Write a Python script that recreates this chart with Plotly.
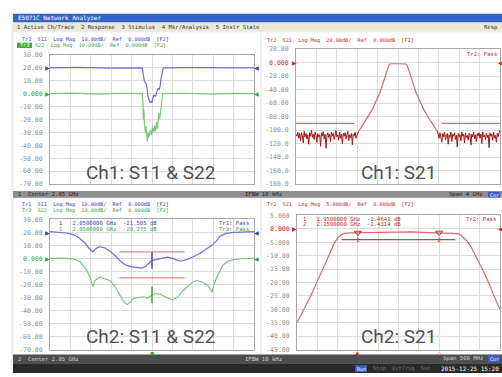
import numpy as np
import plotly.graph_objects as go

W, H = 502, 377

# ---------------- channel settings ----------------
ch1_start, ch1_stop = 0.05, 4.05   # GHz (Center 2.05 GHz, Span 4 GHz)
ch2_start, ch2_stop = 1.80, 2.30   # GHz (Center 2.05 GHz, Span 500 MHz)

# ---------------- Ch1 : S11 (Tr1) & S22 (Tr3) ----------------
ch1_s11_f = [0.05, 0.6, 1.2, 1.7, 1.86, 1.88, 1.90, 1.93, 1.95, 1.97, 1.99, 2.01, 2.03, 2.05,
             2.07, 2.09, 2.11, 2.13, 2.15, 2.17, 2.19, 2.21, 2.23, 2.25, 2.27, 2.8, 3.4, 4.05]
ch1_s11_db = [20, 20.3, 19.8, 20.1, 20, 15, 10, 8, 5, -2, -5, -7, -6, -7,
              -3, -1, -2, -1, 2, 4, 3, 6, 12, 18, 20, 20.2, 19.9, 20]

ch1_s22_f = [0.05, 0.5, 1.0, 1.5, 1.86, 1.875, 1.88, 1.89, 1.90, 1.92, 1.93, 1.95, 1.96, 1.97,
             1.98, 2.00, 2.02, 2.04, 2.06, 2.08, 2.10, 2.12, 2.14, 2.16, 2.18, 2.20, 2.22, 2.24,
             2.26, 2.7, 3.2, 3.6, 4.05]
ch1_s22_db = [0, 0.4, -0.3, 0.3, 0, -8, -20, -12, -22, -30, -25, -35, -37, -30,
              -34, -31, -28, -32, -26, -30, -25, -29, -22, -27, -15, -20, -12, -5,
              0, 0.3, -0.3, 0.2, 0]

# ---------------- Ch1 : S21 (Tr2) ----------------
ch1_s21_f = [1.28, 1.34, 1.40, 1.48, 1.55, 1.62, 1.70, 1.75, 1.80, 1.84, 1.87, 1.89, 1.92, 2.05,
             2.18, 2.21, 2.23, 2.26, 2.30, 2.35, 2.40, 2.48, 2.55, 2.62, 2.70, 2.76, 2.82]
ch1_s21_db = [-102, -95, -88, -78, -69, -57, -44, -32, -20, -10, -4, -2.2, -1.8, -1.8,
              -1.8, -2.2, -4, -10, -20, -32, -44, -57, -69, -78, -88, -95, -102]
ch1_noise_left_stop = 1.28
ch1_noise_left_db = [-106, -109, -103, -112, -105, -116, -104, -108, -119, -102, -110, -105, -113,
                     -107, -121, -104, -109, -100, -111, -106, -114, -103, -108, -118, -105, -110,
                     -107, -124, -104, -109, -102, -113, -106, -127, -108, -104, -111, -106, -117,
                     -103, -109, -105, -114, -104, -101, -110, -107, -115, -103, -112, -106, -120,
                     -105, -109, -104, -113, -108, -102, -116, -107, -111, -105, -122, -106, -109,
                     -103, -112, -107, -105, -102]
ch1_noise_right_start = 2.82
ch1_noise_right_db = [-101, -106, -112, -104, -109, -118, -105, -110, -103, -115, -108, -105, -121,
                      -107, -111, -103, -117, -106, -109, -104, -114, -108, -125, -105, -110, -107,
                      -116, -103, -109, -106, -119, -104, -111, -108, -115, -105, -107, -122, -106,
                      -110, -103, -113, -107, -117, -105, -109, -104, -112, -106, -120, -103, -110,
                      -108, -114, -105, -111, -107, -126, -104, -109, -106, -115, -103, -112, -108,
                      -118, -105, -110, -104, -100]
ch1_limit_segments = [(0.05, 1.20), (2.90, 4.05)]
ch1_limit_db = -90

# ---------------- Ch2 : S11 (Tr1) & S22 (Tr3) ----------------
ch2_s11_f = [1.80, 1.82, 1.84, 1.855, 1.87, 1.885, 1.895, 1.905, 1.912, 1.922, 1.935, 1.947, 1.96,
             1.972, 1.985, 2.0, 2.012, 2.025, 2.035, 2.045, 2.05, 2.06, 2.075, 2.088, 2.1, 2.112,
             2.122, 2.135, 2.15, 2.168, 2.185, 2.197, 2.207, 2.217, 2.23, 2.249, 2.27, 2.3]
ch2_s11_db = [20.5, 20, 19.5, 18.5, 16, 12, 8, 5, 7.5, 9, 8, 5.5, 2,
              -2, -5, -6.5, -7.2, -7.5, -6, -3, -1.5, -1, 0, 1, 0, -1.5,
              -2, -1, 1, 4, 7.5, 10, 13, 17, 19, 20, 20.2, 20.5]
ch2_s22_f = [1.80, 1.83, 1.86, 1.875, 1.89, 1.90, 1.905, 1.91, 1.922, 1.935, 1.947, 1.96, 1.97,
             1.98, 1.989, 1.996, 2.003, 2.015, 2.028, 2.04, 2.05, 2.06, 2.07, 2.085, 2.101, 2.115,
             2.125, 2.136, 2.148, 2.16, 2.172, 2.185, 2.192, 2.197, 2.202, 2.209, 2.217, 2.224,
             2.235, 2.249, 2.27, 2.3]
ch2_s22_db = [0, 0.2, -0.5, -3, -9, -16, -22, -17, -14.5, -15.5, -17, -22, -28,
              -33, -35.5, -34, -31, -30, -29.5, -30.5, -28, -27, -27.5, -30, -32, -29,
              -25, -22, -18.5, -17, -18, -20.5, -23, -26, -20, -14.5, -9, -5,
              -2.5, -1, -0.3, 0]
ch2_limit_f = (1.97, 2.13)
ch2_limit_s11 = 5
ch2_limit_s22 = -15
ch2_marker_f = 2.05
ch2_marker_s11 = -1.5
ch2_marker_s22 = -28

# ---------------- Ch2 : S21 (Tr2) ----------------
ch2_s21_f = [1.80, 1.815, 1.834, 1.85, 1.867, 1.88, 1.891, 1.90, 1.908, 1.916, 1.93, 1.95, 1.99,
             2.02, 2.05, 2.08, 2.11, 2.15, 2.18, 2.197, 2.205, 2.211, 2.22, 2.229, 2.245, 2.261,
             2.275, 2.285, 2.3]
ch2_s21_db = [-35, -30.5, -25, -19.5, -14, -9.5, -5.5, -3.5, -2.3, -1.7, -1.5, -1.46, -1.5,
              -1.4, -1.1, -1.1, -1.3, -1.43, -1.5, -1.8, -2.5, -3.3, -4.8, -6.8, -11.5, -16.4,
              -21, -25, -30]
ch2_s21_limit_f = (1.91, 2.19)
ch2_s21_limit_db = -4
ch2_s21_markers_f = [1.95, 2.15]
ch2_s21_markers_db = [-1.4641, -1.4314]

# ---------------- tick labels ----------------
ch1_left_ticks = [30, 20, 10, 0, -10, -20, -30, -40, -50, -60, -70]
ch1_left_text = ["30.00", "20.00", "10.00", "<span style='color:#3f9f3f'>0.000</span>", "-10.00", "-20.00",
                 "-30.00", "-40.00", "-50.00", "-60.00", "-70.00"]
ch1_right_ticks = [20, 0, -20, -40, -60, -80, -100, -120, -140, -160, -180]
ch1_right_text = ["20.00", "<span style='color:#c62828'>0.000</span>", "-20.00", "-40.00", "-60.00", "-80.00",
                  "-100.0", "-120.0", "-140.0", "-160.0", "-180.0"]
ch2_right_ticks = [5, 0, -5, -10, -15, -20, -25, -30, -35, -40, -45]
ch2_right_text = ["5.000", "<span style='color:#c62828'>0.000</span>", "-5.000", "-10.00", "-15.00", "-20.00",
                  "-25.00", "-30.00", "-35.00", "-40.00", "-45.00"]

BLUE = "#6f6fd6"
GREEN = "#7cc67c"
RED = "#d26a6a"
DRED = "#a51616"
MONO = "DejaVu Sans Mono"

fig = go.Figure()

def line(xs, ys, color, ax, width=1.2):
    fig.add_trace(go.Scatter(x=xs, y=ys, mode="lines", line=dict(color=color, width=width),
                             xaxis=ax[0], yaxis=ax[1], showlegend=False, hoverinfo="skip"))

A1 = ("x", "y"); A2 = ("x2", "y2"); A3 = ("x3", "y3"); A4 = ("x4", "y4")

# Ch1 left
line(ch1_s22_f, ch1_s22_db, GREEN, A1)
line(ch1_s11_f, ch1_s11_db, BLUE, A1)
# Ch1 right
for a, b in ch1_limit_segments:
    line([a, b], [ch1_limit_db, ch1_limit_db], "#d97070", A2, 1.2)
nl = np.linspace(ch1_start, ch1_noise_left_stop, len(ch1_noise_left_db))
nr = np.linspace(ch1_noise_right_start, ch1_stop, len(ch1_noise_right_db))
line(nl, ch1_noise_left_db, DRED, A2, 1.0)
line(nr, ch1_noise_right_db, DRED, A2, 1.0)
line(ch1_s21_f, ch1_s21_db, RED, A2, 1.2)
# Ch2 left
line(list(ch2_limit_f), [ch2_limit_s11] * 2, "#dd8c84", A3, 1.3)
line(list(ch2_limit_f), [ch2_limit_s22] * 2, "#dd8c84", A3, 1.3)
line(ch2_s22_f, ch2_s22_db, GREEN, A3)
line(ch2_s11_f, ch2_s11_db, BLUE, A3)
fig.add_trace(go.Scatter(x=[ch2_marker_f], y=[ch2_marker_s11], mode="markers", xaxis="x3", yaxis="y3",
                         marker=dict(symbol="line-ns", size=12, color="#4b4bc0",
                                     line=dict(color="#4b4bc0", width=1.5)),
                         showlegend=False, hoverinfo="skip"))
fig.add_trace(go.Scatter(x=[ch2_marker_f], y=[ch2_marker_s22], mode="markers", xaxis="x3", yaxis="y3",
                         marker=dict(symbol="line-ns", size=12, color="#3f9f3f",
                                     line=dict(color="#3f9f3f", width=1.5)),
                         showlegend=False, hoverinfo="skip"))
# Ch2 right
line(list(ch2_s21_limit_f), [ch2_s21_limit_db] * 2, "#b54848", A4, 1.2)
line(ch2_s21_f, ch2_s21_db, RED, A4, 1.2)
fig.add_trace(go.Scatter(x=ch2_s21_markers_f, y=ch2_s21_markers_db, mode="markers+text", xaxis="x4", yaxis="y4",
                         marker=dict(symbol="triangle-down-open", size=6, color="#b53030",
                                     line=dict(color="#b53030", width=1)),
                         text=["1", "2"], textposition="bottom center",
                         textfont=dict(family=MONO, size=6, color="#b53030"),
                         showlegend=False, hoverinfo="skip", cliponaxis=False))

# ---------------- axes ----------------
def px(x):
    return x / W

def py(y):
    return 1 - y / H

grid = "#dcdcdc"
tickfont = dict(family=MONO, size=6.5, color="#8f8f8f")

def xax(dom, r):
    return dict(domain=[px(dom[0]), px(dom[1])], range=list(r), tick0=r[0], dtick=(r[1] - r[0]) / 10,
                showticklabels=False, ticks="", showgrid=True, gridcolor=grid, gridwidth=1,
                zeroline=False, showline=True, mirror=True, linecolor="#a8a8a8", linewidth=1,
                fixedrange=True)

def yax(dom, r, tv, tt, anchor):
    return dict(domain=[py(dom[1]), py(dom[0])], range=list(r), tickvals=tv, ticktext=tt,
                ticks="", ticklabelstandoff=5, tickfont=tickfont, showgrid=True, gridcolor=grid,
                zeroline=False, showline=True, mirror=True, linecolor="#a8a8a8", linewidth=1,
                anchor=anchor, fixedrange=True)

fig.update_layout(
    xaxis=dict(xax((50, 254), (ch1_start, ch1_stop)), anchor="y"),
    yaxis=yax((52, 184), (-70, 30), ch1_left_ticks, ch1_left_text, "x"),
    xaxis2=dict(xax((296, 500), (ch1_start, ch1_stop)), anchor="y2"),
    yaxis2=yax((46, 184), (-180, 20), ch1_right_ticks, ch1_right_text, "x2"),
    xaxis3=dict(xax((50, 254), (ch2_start, ch2_stop)), anchor="y3"),
    yaxis3=yax((220, 353), (-70, 30), ch1_left_ticks, ch1_left_text, "x3"),
    xaxis4=dict(xax((297, 500), (ch2_start, ch2_stop)), anchor="y4"),
    yaxis4=yax((216, 353), (-45, 5), ch2_right_ticks, ch2_right_text, "x4"),
)

# ---------------- window chrome ----------------
shapes = []

def rect(x0, y0, x1, y1, fill, edge=None, layer="below"):
    shapes.append(dict(type="rect", xref="paper", yref="paper", x0=px(x0), x1=px(x1),
                       y0=py(y1), y1=py(y0), fillcolor=fill, layer=layer,
                       line=dict(width=1 if edge else 0, color=edge or fill)))

rect(11, 10, 502, 377, "#f2f2f2")          # window
rect(13, 10, 502, 19, "#3564c8")           # title bar
rect(13, 19, 502, 28, "#ece9d8")           # menu bar
rect(14, 29, 260, 191, "#ffffff")          # Ch1 left panel
rect(262, 29, 502, 191, "#ffffff")         # Ch1 right panel
rect(13, 191, 502, 198, "#8e8e8e")         # Ch1 status
rect(14, 199, 260, 358, "#ffffff")         # Ch2 left panel
rect(262, 199, 502, 358, "#ffffff")        # Ch2 right panel
rect(13, 358, 502, 367, "#4e4e4e")         # Ch2 status
rect(13, 367, 502, 377, "#2a2a2a")         # bottom bar
rect(488, 192, 500, 197.5, "#3d5fc2")      # Cor
rect(488, 359, 500, 366, "#3d5fc2")        # Cor
rect(355, 369, 367, 376, "#3d5fc2")        # Run
rect(17, 39.5, 32, 45, "#3cb043")          # active trace box
fig.update_layout(shapes=shapes)

# ---------------- texts ----------------
ann = []

def text(x, y, s, color, size=6.3, family=MONO, anchor="left", xref="paper", yref="paper"):
    ann.append(dict(x=px(x) if xref == "paper" else x, y=py(y) if yref == "paper" else y,
                    xref=xref, yref=yref, text=s, showarrow=False, xanchor=anchor, yanchor="middle",
                    font=dict(family=family, size=size, color=color)))

text(16, 14.5, "E5071C Network Analyzer", "#ffffff", 6)
text(15, 23.5, "1 Active Ch/Trace  2 Response  3 Stimulus  4 Mkr/Analysis  5 Instr State", "#333333", 5.6)
text(500, 23.5, "Resp", "#333333", 5.6, anchor="right")

text(20, 36.5, "Tr1  S11  Log Mag  10.00dB/  Ref  0.000dB  [F2]", "#4040b8", 5.2)
text(18, 42.2, "Tr3", "#ffffff", 5.2)
text(33, 42.2, "S22  Log Mag  10.00dB/  Ref  0.000dB  [F2]", "#3f9f3f", 5.2)
text(265, 37, "Tr2  S21  Log Mag  20.00dB/  Ref  0.000dB  [F2]", "#c62828", 5.2)
text(499, 51, "Tr2: Pass", "#c62828", 5.6, anchor="right")

text(20, 205, "Tr1  S11  Log Mag  10.00dB/  Ref  0.000dB  [F2]", "#4040b8", 5.2)
text(20, 210.5, "Tr3  S22  Log Mag  10.00dB/  Ref  0.000dB  [F2]", "#3f9f3f", 5.2)
text(265, 205, "Tr2  S21  Log Mag  5.000dB/  Ref  0.000dB  [F2]", "#c62828", 5.2)

text(57, 223.5, "1   2.0500000 GHz  -21.505 dB", "#4040b8", 5.6)
text(57, 229.5, "1   2.0500000 GHz  -28.275 dB", "#3f9f3f", 5.6)
text(251, 223.5, "Tr1: Pass", "#4040b8", 5.6, anchor="right")
text(251, 229.5, "Tr3: Pass", "#3f9f3f", 5.6, anchor="right")
text(301, 219.5, "1   1.9500000 GHz  -1.4641 dB", "#c62828", 5.6)
text(301, 225, "2   2.1500000 GHz  -1.4314 dB", "#c62828", 5.6)
text(498, 220, "Tr2: Pass", "#c62828", 5.6, anchor="right")

text(16, 194.5, "1  Center 2.05 GHz", "#1e1e1e", 5.6)
text(243, 194.5, "IFBW 10 kHz", "#1e1e1e", 5.6)
text(485, 194.5, "Span 4 GHz", "#1e1e1e", 5.6, anchor="right")
text(494, 194.8, "Cor", "#ffffff", 5, anchor="center")
text(16, 362.5, "2  Center 2.05 GHz", "#cfcfcf", 5.6)
text(243, 362.5, "IFBW 10 kHz", "#cfcfcf", 5.6)
text(485, 362.5, "Span 500 MHz", "#cfcfcf", 5.6, anchor="right")
text(494, 362.5, "Cor", "#ffffff", 5, anchor="center")
text(361, 372.5, "Run", "#ffffff", 5, anchor="center")
text(371, 372.5, "Stop  ExtTrig  Svc", "#777777", 5.3)
text(501, 372.5, "2015-12-25 15:20", "#ffffff", 6, anchor="right")

# reference-level arrows
for yv, c, yr in [(20, "#4040b8", "y"), (0, "#3f9f3f", "y"), (20, "#4040b8", "y3"), (0, "#3f9f3f", "y3")]:
    text(47.5, yv, "▶", c, 6, "DejaVu Sans", "center", yref=yr)
    text(256.5, yv, "◀", c, 6, "DejaVu Sans", "center", yref=yr)
for yr in ["y2", "y4"]:
    text(294, 0, "▶", "#c62828", 6, "DejaVu Sans", "center", yref=yr)
    text(500.5, 0, "◀", "#c62828", 6, "DejaVu Sans", "center", yref=yr)

# stimulus markers below Ch2 grids
text(ch2_marker_f, 356.5, "●", "#3f9f3f", 5, "DejaVu Sans", "center", xref="x3")
text(ch2_s21_markers_f[0], 356.5, "▲", "#c62828", 6, "DejaVu Sans", "center", xref="x4")
text(ch2_s21_markers_f[1], 356.5, "△", "#c62828", 6, "DejaVu Sans", "center", xref="x4")

# channel captions
CAP_COLOR, CAP_SIZE, CAP_FONT = "#4f4f4f", 19, "Roboto"
text(150, 172, "Ch1: S11 & S22", CAP_COLOR, CAP_SIZE, CAP_FONT, "center")
text(398, 172, "Ch1: S21", CAP_COLOR, CAP_SIZE, CAP_FONT, "center")
text(150, 340, "Ch2: S11 & S22", CAP_COLOR, CAP_SIZE, CAP_FONT, "center")
text(398, 340, "Ch2: S21", CAP_COLOR, CAP_SIZE, CAP_FONT, "center")

fig.update_layout(annotations=ann, width=W, height=H, margin=dict(l=0, r=0, t=0, b=0),
                  paper_bgcolor="#ffffff", plot_bgcolor="rgba(0,0,0,0)", showlegend=False)

fig.write_html("out.html", config=dict(displayModeBar=False))
